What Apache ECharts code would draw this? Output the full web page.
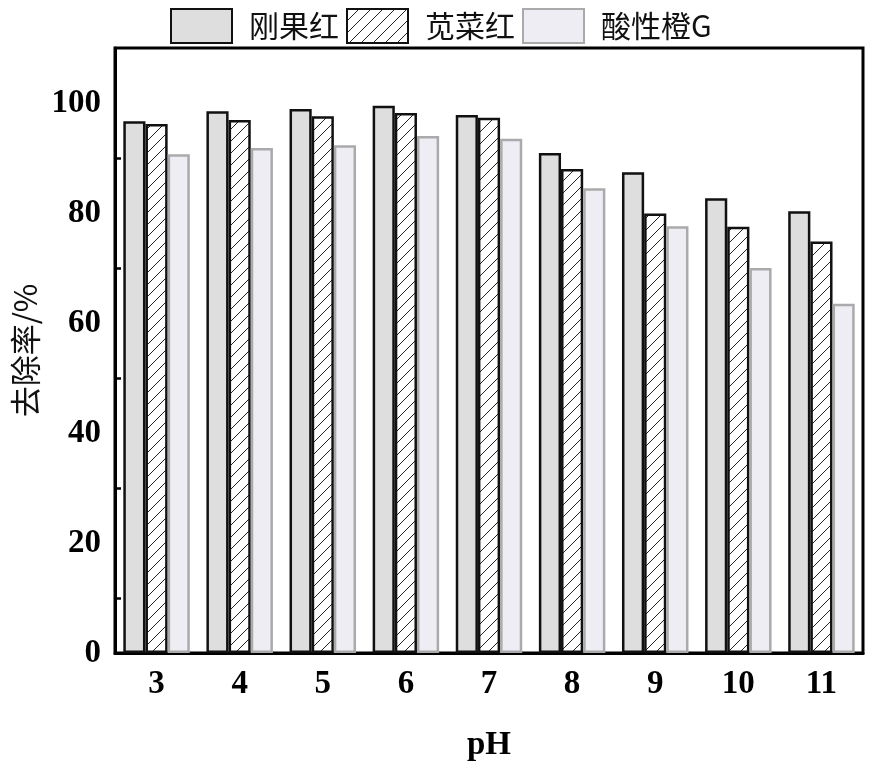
<!DOCTYPE html>
<html><head><meta charset="utf-8">
<script src="https://cdn.jsdelivr.net/npm/echarts@6/dist/echarts.min.js"></script>
<style>html,body{margin:0;padding:0;background:#fff}#c{width:873px;height:768px}</style>
</head><body><div id="c"></div>
<script>
const categories = ['3','4','5','6','7','8','9','10','11'];
const congoRed = [96.7, 98.5, 98.9, 99.5, 97.8, 90.9, 87.4, 82.7, 80.3];
const amaranth = [96.2, 96.9, 97.6, 98.2, 97.3, 88.0, 79.9, 77.5, 74.8];
const acidOrangeG = [90.7, 91.8, 92.3, 94.0, 93.5, 84.5, 77.6, 70.0, 63.5];
const seriesNames = ['刚果红', '苋菜红', '酸性橙G'];
const yTicks = [0, 20, 40, 60, 80, 100];

function hatch() {
  const c = document.createElement('canvas');
  c.width = 12; c.height = 12;
  const g = c.getContext('2d');
  g.fillStyle = '#fff'; g.fillRect(0, 0, 12, 12);
  g.strokeStyle = '#222'; g.lineWidth = 1;
  g.beginPath(); g.moveTo(-1, 13); g.lineTo(13, -1); g.stroke();
  return c;
}
const hatchPattern = { image: hatch(), repeat: 'repeat' };

const serif = '"Liberation Serif","Times New Roman",serif';
const cjk = '"Noto Sans CJK SC","Noto Sans",sans-serif';

const chart = echarts.init(document.getElementById('c'));
chart.setOption({
  animation: false,
  legend: {
    top: 3, left: 165, itemWidth: 61, itemHeight: 34, itemGap: 7, icon: 'rect',
    textStyle: { fontFamily: cjk, fontSize: 30, color: '#111', padding: [0, 0, 0, 12] },
    data: seriesNames
  },
  grid: { left: 115, right: 10, top: 48, bottom: 115, show: true, borderColor: '#000', borderWidth: 3,
    outerBoundsMode: 'none', containLabel: false },
  xAxis: [{
    type: 'category', data: categories,
    name: 'pH', nameLocation: 'middle', nameGap: 76,
    nameTextStyle: { fontFamily: serif, fontWeight: 'bold', fontSize: 33, color: '#000' },
    axisLine: { lineStyle: { color: '#000', width: 3 } },
    axisTick: { alignWithLabel: true, inside: true, length: 9, lineStyle: { color: '#000', width: 2.5 } },
    axisLabel: { fontFamily: serif, fontWeight: 'bold', fontSize: 33, color: '#000', margin: 15 }
  }, {
    type: 'category', data: categories, position: 'bottom',
    axisLine: { show: false },
    axisTick: { alignWithLabel: false, inside: true, length: 5, lineStyle: { color: '#000', width: 2.5 } },
    axisLabel: { show: false }
  }],
  yAxis: {
    type: 'value', min: 0, max: 110, interval: 20,
    name: '去除率/%', nameLocation: 'middle', nameGap: 62,
    nameTextStyle: { fontFamily: cjk, fontSize: 31, color: '#111' },
    axisLine: { show: true, lineStyle: { color: '#000', width: 3 } },
    axisTick: { inside: true, length: 12, lineStyle: { color: '#000', width: 2.5 } },
    minorTick: { show: true, splitNumber: 2, length: 6, lineStyle: { color: '#000', width: 2.5 } },
    splitLine: { show: false },
    axisLabel: {
      fontFamily: serif, fontWeight: 'bold', fontSize: 33, color: '#000', margin: 14,
      formatter: v => yTicks.indexOf(v) >= 0 ? String(v) : ''
    }
  },
  series: [
    { name: seriesNames[0], type: 'bar', data: congoRed, barGap: '0%', barCategoryGap: '20%',
      itemStyle: { color: '#dedede', borderColor: '#111', borderWidth: 2.5 } },
    { name: seriesNames[1], type: 'bar', data: amaranth, barGap: '0%', barCategoryGap: '20%',
      itemStyle: { color: hatchPattern, borderColor: '#111', borderWidth: 2.5 } },
    { name: seriesNames[2], type: 'bar', data: acidOrangeG, barGap: '0%', barCategoryGap: '20%',
      itemStyle: { color: '#efedf4', borderColor: '#aaaaaa', borderWidth: 2.5 } }
  ]
});
</script></body></html>
